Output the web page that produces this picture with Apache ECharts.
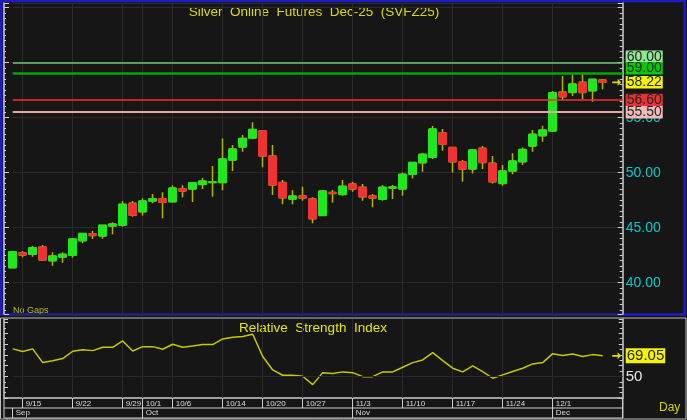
<!DOCTYPE html>
<html>
<head>
<meta charset="utf-8">
<script src="https://cdn.jsdelivr.net/npm/echarts@6/dist/echarts.min.js"></script>
<style>
html, body { margin: 0; padding: 0; background: #161616; }
#chart { width: 687px; height: 420px; }
</style>
</head>
<body>
<div id="chart"></div>
<script>
// daily bars, Sep 12 .. Dec 8
const dates = [
  '9/12',
  '9/15', '9/16', '9/17', '9/18', '9/19',
  '9/22', '9/23', '9/24', '9/25', '9/26',
  '9/29', '9/30', '10/1', '10/2', '10/3',
  '10/6', '10/7', '10/8', '10/9', '10/10',
  '10/14', '10/15', '10/16', '10/17',
  '10/20', '10/21', '10/22', '10/23',
  '10/27', '10/28', '10/29', '10/30', '10/31',
  '11/3', '11/4', '11/5', '11/6', '11/7',
  '11/10', '11/11', '11/12', '11/13', '11/14',
  '11/17', '11/18', '11/19', '11/20', '11/21',
  '11/24', '11/25', '11/26', '11/27', '11/28',
  '12/1', '12/2', '12/3', '12/4', '12/5',
  '12/8'
]
const open = [
  41.36, 42.73, 42.58, 43.25, 42.00, 42.33, 42.49, 43.82, 44.45, 44.25,
  45.15, 45.22, 47.22, 46.45, 47.43, 47.64, 47.36, 48.55, 48.52, 48.94,
  49.10, 49.10, 51.15, 52.34, 53.15, 53.82, 51.52, 49.10, 47.60, 47.88,
  47.60, 46.12, 48.21, 48.03, 48.97, 48.67, 47.88, 47.58, 48.60, 48.52,
  49.85, 50.91, 51.40, 53.64, 52.30, 51.00, 50.34, 52.22, 50.85, 49.03,
  50.15, 51.00, 52.43, 53.37, 53.79, 57.33, 57.30, 58.22, 57.45, 58.42
]
const close = [
  42.82, 42.52, 43.18, 42.06, 42.43, 42.58, 43.97, 44.48, 44.30, 45.22,
  45.33, 47.13, 46.13, 47.43, 47.64, 47.31, 48.60, 48.34, 49.09, 49.24,
  49.18, 51.24, 52.15, 53.12, 53.94, 51.52, 48.88, 47.73, 47.88, 47.70,
  45.82, 48.33, 48.12, 48.76, 48.52, 47.82, 47.70, 48.67, 48.70, 49.85,
  50.94, 51.67, 53.97, 52.58, 51.00, 50.34, 52.07, 50.94, 49.18, 50.15,
  51.06, 52.12, 53.49, 53.88, 57.27, 56.91, 58.06, 57.30, 58.49, 58.22
]
const low = [
  41.30, 42.31, 42.36, 41.97, 41.55, 41.82, 42.27, 43.58, 43.97, 44.00,
  44.40, 45.09, 46.00, 46.10, 47.22, 45.85, 47.27, 47.76, 47.33, 48.52,
  47.82, 48.40, 50.15, 51.90, 53.04, 50.49, 47.97, 47.13, 47.13, 47.45,
  45.40, 46.10, 47.27, 47.90, 48.27, 47.45, 46.85, 47.45, 47.60, 47.90,
  49.48, 50.09, 51.24, 52.00, 50.03, 49.18, 49.94, 50.34, 49.03, 48.82,
  49.85, 50.70, 51.90, 52.82, 53.70, 56.60, 56.97, 56.67, 56.45, 57.58
]
const high = [
  42.90, 42.88, 43.33, 43.43, 42.76, 42.76, 44.06, 44.50, 44.70, 45.25,
  45.49, 47.43, 47.43, 47.67, 48.06, 48.22, 48.85, 48.85, 49.10, 49.52,
  50.60, 53.10, 52.52, 53.43, 54.58, 53.88, 52.52, 49.33, 48.40, 48.73,
  47.76, 48.42, 48.42, 49.33, 49.18, 48.97, 48.06, 48.88, 48.88, 50.00,
  51.00, 51.82, 54.25, 53.97, 52.36, 51.15, 52.15, 52.43, 51.52, 50.70,
  51.76, 52.30, 53.88, 54.27, 57.43, 58.80, 58.94, 58.94, 58.52, 58.52
]
const rsi = [
  75.5, 73.0, 75.5, 62.8, 64.6, 66.5, 73.3, 74.8, 73.9, 77.0,
  77.0, 82.9, 73.6, 77.6, 77.6, 75.2, 79.8, 77.0, 78.2, 79.5,
  79.5, 84.7, 86.3, 86.9, 89.1, 68.5, 56.0, 51.1, 51.1, 50.2,
  42.4, 53.5, 52.6, 54.2, 53.5, 49.8, 49.8, 54.2, 54.2, 58.5,
  62.8, 65.3, 72.0, 64.6, 57.6, 54.2, 59.7, 54.5, 48.3, 51.4,
  54.5, 57.6, 61.6, 62.8, 71.1, 69.3, 70.8, 68.5, 70.2, 69.05
]
const weekStarts = ['9/15', '9/22', '9/29', '10/1', '10/6', '10/14', '10/20', '10/27', '11/3', '11/10', '11/17', '11/24', '12/1']
const monthStarts = ['9/12', '10/1', '11/3', '12/1']
const monthNames = ['Sep', 'Oct', 'Nov', 'Dec']
const priceTicks = [40, 45, 50, 55]
const rsiTicks = [50]
const levelValues = [60.00, 59.00, 56.60, 55.50]

const levelLine = ['#74c474', '#00a800', '#ff2a2a', '#eaa4a4']
const levelWidth = [1.5, 2.5, 1.5, 2]
const levelBg = ['#90e890', '#00cc00', '#e83232', '#f4baba']
// the two top boxes are pushed up so they do not cover the last price box
const levelShift = [-6, -5.5, 0, 0]

// two empty slots on the right so the axis sits a bit past the last bar
const cats = dates.concat([' ', '  '])
const last = dates.length - 1

const font = 'Liberation Sans, Arial, sans-serif'
const gridColor = '#2b2b2b'
const axisColor = '#cfcfcf'
const arrow = 'path://M0,3 L6,3 L6,0 L10,4 L6,8 L6,5 L0,5 Z'

const wickData = dates.map((d, i) => [open[i], close[i], low[i], high[i]])
const bodyData = dates.map((d, i) => [open[i], close[i], Math.min(open[i], close[i]), Math.max(open[i], close[i])])

const boxLabel = (text, bg, dy) => ({
  show: true,
  position: 'end',
  distance: 3,
  offset: [0, dy || 0],
  formatter: text,
  backgroundColor: bg,
  color: '#262626',
  fontFamily: font,
  fontSize: 14,
  lineHeight: 12.5,
  padding: [0, 1, 0, 1]
})

const myChart = echarts.init(document.getElementById('chart'))
myChart.setOption({
  animation: false,
  backgroundColor: '#161616',
  textStyle: { fontFamily: font },
  grid: [
    { left: 12.7, right: 64.3, top: 3, height: 311 },
    { left: 12.7, right: 64.3, top: 319, height: 79 }
  ],
  xAxis: [
    {
      gridIndex: 0,
      type: 'category',
      position: 'bottom',
      data: cats,
      boundaryGap: false,
      axisLine: { show: false },
      axisTick: { show: false },
      axisLabel: { show: false },
      splitLine: {
        show: true,
        interval: (i, v) => weekStarts.includes(v),
        lineStyle: { color: gridColor, width: 1 }
      }
    },
    {
      gridIndex: 1,
      type: 'category',
      position: 'bottom',
      data: cats,
      boundaryGap: false,
      axisLine: { show: false },
      axisTick: {
        show: true,
        interval: (i, v) => weekStarts.includes(v),
        length: 10,
        lineStyle: { color: axisColor }
      },
      axisLabel: {
        interval: (i, v) => weekStarts.includes(v),
        align: 'left',
        margin: 2,
        padding: [0, 0, 0, 3],
        color: '#dcdcdc',
        fontSize: 8
      },
      splitLine: {
        show: true,
        interval: (i, v) => weekStarts.includes(v),
        lineStyle: { color: gridColor, width: 1 }
      }
    },
    {
      gridIndex: 1,
      type: 'category',
      position: 'bottom',
      data: cats,
      boundaryGap: false,
      offset: 10,
      axisLine: { show: false },
      axisTick: {
        show: true,
        interval: (i, v) => monthStarts.includes(v),
        length: 10,
        lineStyle: { color: axisColor }
      },
      axisLabel: {
        interval: (i, v) => monthStarts.includes(v),
        formatter: v => monthNames[monthStarts.indexOf(v)] || '',
        align: 'left',
        margin: 1,
        padding: [0, 0, 0, 3],
        color: '#dcdcdc',
        fontSize: 8
      },
      splitLine: { show: false }
    }
  ],
  yAxis: [
    {
      gridIndex: 0,
      position: 'right',
      min: 37.155,
      max: 65.43,
      axisLine: { show: true, lineStyle: { color: axisColor, width: 1.5 } },
      axisTick: { show: true, inside: true, length: 5, lineStyle: { color: axisColor } },
      minorTick: { show: true, splitNumber: 10, length: 3, lineStyle: { color: axisColor } },
      axisLabel: {
        formatter: v => (priceTicks.includes(v) ? v.toFixed(2) : ''),
        color: '#00cccc',
        fontSize: 14,
        margin: 3
      },
      splitLine: { show: true, lineStyle: { color: gridColor, width: 1 } }
    },
    {
      gridIndex: 0,
      position: 'left',
      offset: 8.7,
      min: 37.155,
      max: 65.43,
      axisLine: { show: true, lineStyle: { color: axisColor, width: 1.5 } },
      axisTick: { show: true, inside: true, length: 5, lineStyle: { color: axisColor } },
      minorTick: { show: true, splitNumber: 10, length: 2, lineStyle: { color: axisColor } },
      axisLabel: { show: false },
      splitLine: { show: false }
    },
    {
      gridIndex: 1,
      position: 'right',
      min: 30,
      max: 103.2,
      axisLine: { show: true, lineStyle: { color: axisColor, width: 1.5 } },
      axisTick: { show: true, inside: true, length: 4, lineStyle: { color: axisColor } },
      minorTick: { show: true, splitNumber: 2, length: 3, lineStyle: { color: axisColor } },
      axisLabel: {
        formatter: v => (rsiTicks.includes(v) ? String(v) : ''),
        color: '#e6e6e6',
        fontSize: 15,
        margin: 3
      },
      splitLine: { show: false }
    },
    {
      gridIndex: 1,
      position: 'left',
      offset: 8.7,
      min: 30,
      max: 103.2,
      axisLine: { show: true, lineStyle: { color: axisColor, width: 1.5 } },
      axisTick: { show: true, inside: true, length: 4, lineStyle: { color: axisColor } },
      minorTick: { show: true, splitNumber: 2, length: 2, lineStyle: { color: axisColor } },
      axisLabel: { show: false },
      splitLine: { show: false }
    }
  ],
  series: [
    {
      // wicks (olive), bodies get covered by the next series
      name: 'wick',
      type: 'candlestick',
      xAxisIndex: 0,
      yAxisIndex: 0,
      clip: false,
      barWidth: 6,
      data: wickData,
      itemStyle: {
        color: '#b4b400',
        color0: '#b4b400',
        borderColor: '#b4b400',
        borderColor0: '#b4b400',
        borderWidth: 1.5
      }
    },
    {
      name: 'SVFZ25',
      type: 'candlestick',
      xAxisIndex: 0,
      yAxisIndex: 0,
      clip: false,
      barWidth: 8,
      data: bodyData,
      itemStyle: {
        color: '#1ee81e',
        color0: '#f03232',
        borderColor: '#1ee81e',
        borderColor0: '#f03232',
        borderWidth: 1
      },
      markLine: {
        silent: true,
        symbol: 'none',
        animation: false,
        data: levelValues.map((v, i) => ({
          yAxis: v,
          lineStyle: { color: levelLine[i], width: levelWidth[i], type: 'solid' },
          label: boxLabel(v.toFixed(2), levelBg[i], levelShift[i])
        })).concat([{
          yAxis: close[last],
          lineStyle: { color: 'rgba(0,0,0,0)', width: 1 },
          label: boxLabel(close[last].toFixed(2), '#f4f400', 0)
        }])
      },
      markPoint: {
        silent: true,
        animation: false,
        symbol: arrow,
        symbolSize: [9, 7],
        symbolOffset: [14, 0],
        itemStyle: { color: '#d8d800' },
        label: { show: false },
        data: [{ coord: [last, close[last]] }]
      }
    },
    {
      name: 'RSI',
      type: 'line',
      xAxisIndex: 1,
      yAxisIndex: 2,
      data: rsi,
      symbol: 'none',
      lineStyle: { color: '#c8c800', width: 1.5 },
      markLine: {
        silent: true,
        symbol: 'none',
        animation: false,
        data: [
          { yAxis: 50, lineStyle: { color: gridColor, width: 1, type: 'solid' }, label: { show: false } },
          {
            yAxis: rsi[last],
            lineStyle: { color: 'rgba(0,0,0,0)', width: 1 },
            label: Object.assign(boxLabel(rsi[last].toFixed(2), '#f4f400', 0), { fontSize: 15, lineHeight: 15 })
          }
        ]
      },
      markPoint: {
        silent: true,
        animation: false,
        symbol: arrow,
        symbolSize: [9, 7],
        symbolOffset: [14, 0],
        itemStyle: { color: '#d8d800' },
        label: { show: false },
        data: [{ coord: [last, rsi[last]] }]
      }
    }
  ],
  graphic: [
    // price pane frame
    { type: 'rect', silent: true, shape: { x: 1.3, y: 1, width: 683.4, height: 313.6 }, style: { fill: 'none', stroke: '#1c1cc4', lineWidth: 2.5 } },
    // indicator pane frame and date rows
    { type: 'rect', silent: true, shape: { x: 0.5, y: 318, width: 685.5, height: 101 }, style: { fill: 'none', stroke: '#bdbdbd', lineWidth: 1 } },
    { type: 'line', silent: true, shape: { x1: 4, y1: 398, x2: 622.7, y2: 398 }, style: { stroke: axisColor, lineWidth: 1.5 } },
    { type: 'line', silent: true, shape: { x1: 4, y1: 408, x2: 622.7, y2: 408 }, style: { stroke: axisColor, lineWidth: 1 } },
    { type: 'line', silent: true, shape: { x1: 4, y1: 418, x2: 622.7, y2: 418 }, style: { stroke: axisColor, lineWidth: 1 } },
    { type: 'line', silent: true, shape: { x1: 4, y1: 398, x2: 4, y2: 418 }, style: { stroke: axisColor, lineWidth: 1 } },
    { type: 'line', silent: true, shape: { x1: 622.7, y1: 398, x2: 622.7, y2: 418 }, style: { stroke: axisColor, lineWidth: 1.5 } },
    {
      type: 'text', silent: true, x: 314, y: 12,
      style: { text: 'Silver  Online  Futures  Dec-25  (SVFZ25)', fill: '#dada00', font: '13.5px ' + font, textAlign: 'center', textVerticalAlign: 'middle' }
    },
    {
      type: 'text', silent: true, x: 313, y: 328,
      style: { text: 'Relative  Strength  Index', fill: '#e6e600', font: '13.5px ' + font, textAlign: 'center', textVerticalAlign: 'middle' }
    },
    {
      type: 'text', silent: true, x: 13, y: 311,
      style: { text: 'No Gaps', fill: '#bcbc00', font: '9px ' + font, textAlign: 'left', textVerticalAlign: 'middle' }
    },
    {
      type: 'text', silent: true, x: 659, y: 408,
      style: { text: 'Day', fill: '#d4d400', font: '12px ' + font, textAlign: 'left', textVerticalAlign: 'middle' }
    }
  ]
})
</script>
</body>
</html>
